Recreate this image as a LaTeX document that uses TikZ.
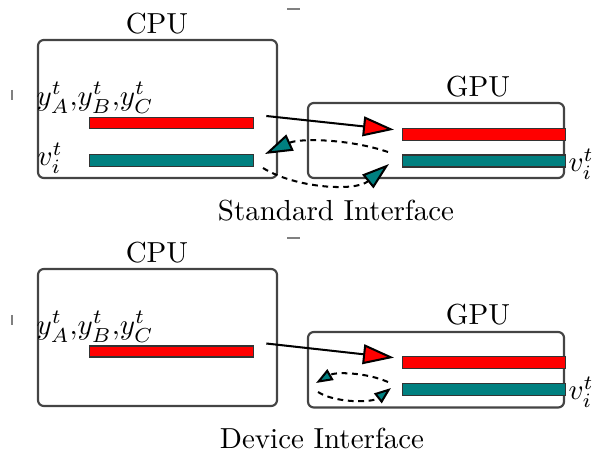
\documentclass[tikz,border=0pt]{standalone}
\usetikzlibrary{arrows.meta,calc}
\definecolor{boxgrey}{HTML}{444444}
\definecolor{tealbar}{RGB}{0,128,128}
\definecolor{redbar}{RGB}{255,0,0}
\tikzset{
  unitbox/.style={draw=boxgrey, line width=0.75pt, rounded corners=2pt},
  redstrip/.style={draw=black!80, line width=0.45pt, fill=redbar, inner sep=0pt},
  tealstrip/.style={draw=black!80, line width=0.45pt, fill=tealbar, inner sep=0pt},
  copyarrow/.style={line width=0.7pt, -{Triangle[length=10.7pt,width=6.8pt,fill=redbar]}},
  loopbig/.style={line width=0.7pt, dash pattern=on 2pt off 1.6pt, -{Triangle[length=9.5pt,width=6pt,fill=tealbar]}},
  loopsmall/.style={line width=0.7pt, dash pattern=on 2pt off 1.6pt, -{Triangle[length=5.8pt,width=4.2pt,fill=tealbar]}},
  tick/.style={draw=gray, line width=0.6pt}
}
\begin{document}
\begin{tikzpicture}[x=0.345pt, y=-0.345pt]
\useasboundingbox (0,0) rectangle (595,450);

% ---------- standard interface ----------
\draw[unitbox] (38,40) rectangle (277,178);
\node (cpuA) at (157,24) {CPU};
\node[anchor=west, inner sep=0pt] (ylabA) at (36,98) {$y^t_A{,}y^t_B{,}y^t_C$};
\node[anchor=west, inner sep=0pt] (vlabA) at (37,158) {$v^t_i$};
\node[redstrip, minimum width=164*0.345pt, minimum height=11*0.345pt, anchor=north west] (cpuredA) at (89,117) {};
\node[tealstrip, minimum width=164*0.345pt, minimum height=12*0.345pt, anchor=north west] (cputealA) at (89,154) {};

\draw[unitbox] (308,103) rectangle (564,178);
\node (gpuA) at (478,87) {GPU};
\node[redstrip, minimum width=163*0.345pt, minimum height=12*0.345pt, anchor=north west] (gpuredA) at (402,128) {};
\node[tealstrip, minimum width=163*0.345pt, minimum height=12*0.345pt, anchor=north west] (gputealA) at (402,154.5) {};
\node[anchor=west, inner sep=0pt] (vrA) at (568,164) {$v^t_i$};

\coordinate (sA) at ($(cpuredA.north east)+(12,-1)$);
\coordinate (tA) at ($(gpuredA.west)+(-8,-5)$);
\draw[copyarrow] (sA) -- (tA);

\coordinate (lA1) at (388,152);
\coordinate (lA2) at (265,154);
\coordinate (lA3) at (263,168);
\coordinate (lA4) at (389,164);
\draw[loopbig] (lA1) .. controls (350,139) and (300,138) .. (lA2);
\draw[loopbig] (lA3) .. controls (295,188) and (355,192) .. (lA4);

\node (capA) at (336,211) {Standard Interface};

% ---------- device interface ----------
\draw[unitbox] (38,269) rectangle (277,406);
\node (cpuB) at (157,253) {CPU};
\node[anchor=west, inner sep=0pt] (ylabB) at (36,327) {$y^t_A{,}y^t_B{,}y^t_C$};
\node[redstrip, minimum width=164*0.345pt, minimum height=11*0.345pt, anchor=north west] (cpuredB) at (89,345.5) {};

\draw[unitbox] (308,332) rectangle (564,407.5);
\node (gpuB) at (478,315) {GPU};
\node[redstrip, minimum width=163*0.345pt, minimum height=12*0.345pt, anchor=north west] (gpuredB) at (402,356) {};
\node[tealstrip, minimum width=163*0.345pt, minimum height=12*0.345pt, anchor=north west] (gputealB) at (402,383) {};
\node[anchor=west, inner sep=0pt] (vrB) at (568,392) {$v^t_i$};

\coordinate (sB) at ($(cpuredB.north east)+(12,-2)$);
\coordinate (tB) at ($(gpuredB.west)+(-8,-5)$);
\draw[copyarrow] (sB) -- (tB);

\coordinate (lB1) at (388,382);
\coordinate (lB2) at (316,383);
\coordinate (lB3) at (318,392);
\coordinate (lB4) at (391,388);
\draw[loopsmall] (lB1) .. controls (365,372) and (335,372) .. (lB2);
\draw[loopsmall] (lB3) .. controls (335,403) and (372,403) .. (lB4);

\node (capB) at (322,438) {Device Interface};

% ---------- small edge ticks ----------
\draw[tick] (287,9) -- (300,9);
\draw[tick] (287,238) -- (300,238);
\draw[tick] (12,90) -- (12,100);
\draw[tick] (12,315) -- (12,325);
\end{tikzpicture}
\end{document}
